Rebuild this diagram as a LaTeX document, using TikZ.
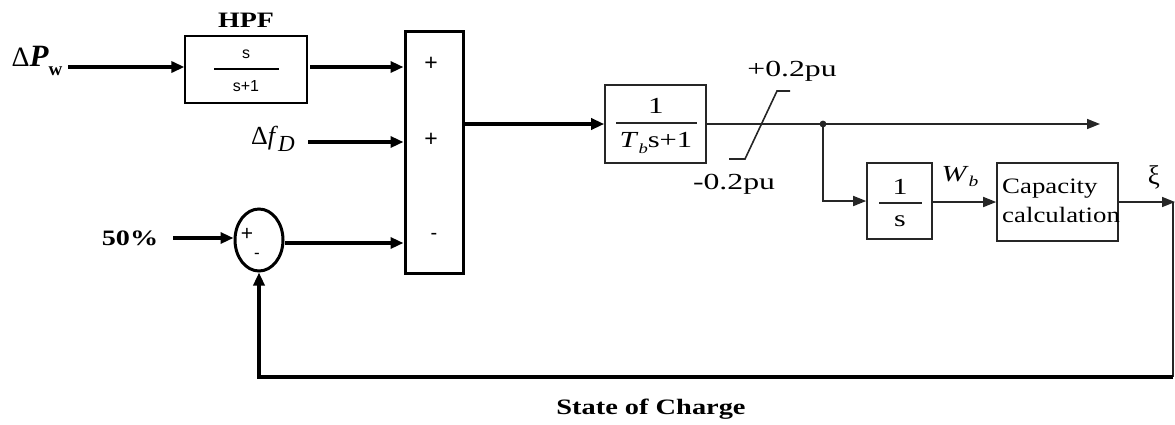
\documentclass[tikz,border=0pt]{standalone}
\usepackage{fontspec}
\setmainfont{Liberation Serif}
\setsansfont{Liberation Sans}
\usetikzlibrary{arrows.meta,shapes.geometric}
\newcommand\fsz[1]{\fontsize{#1}{#1}\selectfont}
\newcommand\sx[2]{\scalebox{#1}[1]{#2}}
\definecolor{dk}{RGB}{38,38,38}
\tikzset{
  thk/.style={line width=3.2pt, -{Triangle[length=13pt,width=11pt]}},
  thn/.style={line width=1.6pt, draw=dk, -{Triangle[length=13pt,width=10pt]}},
  thinbox/.style={draw=dk, line width=1.6pt, inner sep=0pt},
  thickbox/.style={draw, line width=3pt, inner sep=0pt},
  lbl/.style={inner sep=0pt},
  fracline/.style={line width=1.4pt, draw=dk},
}
\begin{document}
\begin{tikzpicture}[x=1pt,y=-1pt]
\useasboundingbox (0,0) rectangle (1175,424);

% ---------- left part ----------
\node[lbl] (dpw) at (37,61) {\fsz{28}Δ\fsz{31}\textbf{\textit{P}}\raisebox{-0.3em}{\fsz{19}\textbf{w}}};
\coordinate (dpwout) at (68,67);

\node[draw, line width=1.2pt, inner sep=0pt, minimum width=122pt, minimum height=67pt] (hpf) at (246,69.5) {};
\node[lbl] (hpft) at (246,20) {\fsz{22}\sx{1.27}{\textbf{HPF}}};
\node[lbl, font=\sffamily\fsz{16}] (hpfn) at (246,54) {s};
\node[lbl, font=\sffamily\fsz{16}] (hpfd) at (246,86) {s+1};
\draw[line width=1.2pt] (214,69) -- (279,69);

\node[thickbox, minimum width=58pt, minimum height=242pt] (sum) at (434,152) {};
\node[lbl, font=\sffamily\fsz{23}] (p1) at (431,64) {+};
\node[lbl, font=\sffamily\fsz{23}] (p2) at (431,140) {+};
\node[lbl, font=\sffamily\fsz{20}] (m1) at (434,236) {-};

\draw[thk] (dpwout) -- (dpwout -| hpf.west);
\coordinate (hpfout) at (310,67);
\draw[thk] (hpfout) -- (hpfout -| sum.west);

\node[lbl] (dfd) at (273,139) {\fsz{26}Δ\textit{f}\raisebox{-0.25em}{\fsz{23}\textit{D}}};
\coordinate (dfdout) at (308,142);
\draw[thk] (dfdout) -- (dfdout -| sum.west);

\node[lbl] (pct) at (130,238) {\fsz{22}\sx{1.28}{\textbf{50\%}}};
\coordinate (pctout) at (173,238);
\node[draw, ellipse, line width=3pt, minimum width=48pt, minimum height=62pt, inner sep=0pt] (circ) at (259,240) {};
\node[lbl, font=\sffamily\fsz{21}] (cp) at (247,234) {+};
\node[lbl, font=\sffamily\fsz{17}] (cm) at (257,256) {-};
\draw[thk] (pctout) -- (pctout -| circ.west);
\draw[thk] ([yshift=-3pt]circ.east) -- ([yshift=-3pt]circ.east -| sum.west);

% ---------- right part ----------
\node[thinbox, minimum width=101pt, minimum height=78pt] (tb) at (655.5,124) {};
\node[lbl] (tbn) at (656,106) {\fsz{23}\sx{1.35}{1}};
\draw[fracline] (616,123) -- (697,123);
\node[lbl] (tbd) at (656,143) {\fsz{23}\sx{1.33}{\textit{T}\raisebox{-0.22em}{\fsz{14}\textit{b}}s+1}};
\draw[thk] (sum.east |- tb.west) -- (tb.west);

\coordinate (out1) at (1100,124);
\draw[thn] (tb.east) -- (out1);

% saturation symbol
\draw[line width=1.6pt, dk] (729,159) -- (745,159) -- (777,91) -- (790,91);
\node[lbl] (sup) at (792,71) {\fsz{23}\sx{1.38}{+0.2pu}};
\node[lbl] (slo) at (734,184) {\fsz{23}\sx{1.38}{-0.2pu}};

\coordinate (jn) at (823,124);
\fill[dk] (jn) circle (3.4pt);

\node[thinbox, minimum width=65pt, minimum height=76pt] (ints) at (899.5,201) {};
\node[lbl] (intn) at (900,187) {\fsz{23}\sx{1.3}{1}};
\draw[fracline] (879,203) -- (922,203);
\node[lbl] (intd) at (900,221) {\fsz{23}\sx{1.3}{s}};
\draw[thn] (jn) |- (ints.west);

\node[thinbox, minimum width=121pt, minimum height=78pt] (cap) at (1057.5,202) {};
\node[lbl, anchor=base west] (cap1) at (1002,193) {\fsz{22}\sx{1.22}{Capacity}};
\node[lbl, anchor=base west] (cap2) at (1002,222) {\fsz{22}\sx{1.22}{calculation}};
\draw[thn] (ints.east |- cap.west) -- (cap.west);
\node[lbl] (wb) at (960,177) {\fsz{23}\sx{1.3}{\textit{W}\raisebox{-0.22em}{\fsz{15}\textit{b}}}};

\coordinate (xiend) at (1175,202);
\draw[thn] (cap.east) -- (xiend);
\node[lbl] (xi) at (1154,177) {\fsz{27}ξ};

% feedback
\coordinate (fb1) at (1173,202);
\coordinate (fb2) at (1173,377);
\coordinate (fb3) at (259,377);
\draw[line width=2pt, dk] (fb1) -- (fb2);
\draw[line width=3.5pt, -{Triangle[length=13pt,width=11pt]}] (fb2) -- (fb3) -- (circ.south);

\node[lbl] (soc) at (651,409) {\fsz{22}\sx{1.29}{\textbf{State of Charge}}};
\end{tikzpicture}
\end{document}
